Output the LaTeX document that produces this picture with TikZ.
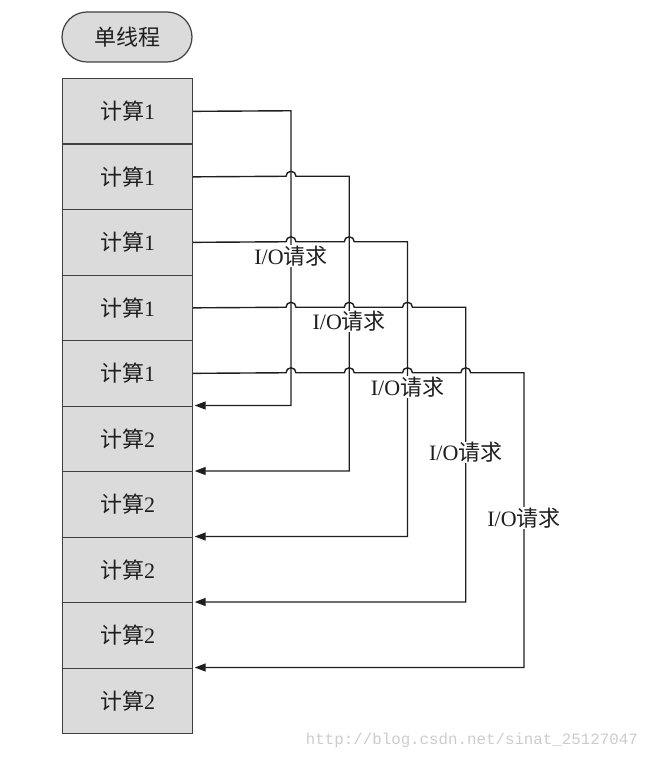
\documentclass[tikz,border=0pt]{standalone}
\usepackage{fontspec}
\setmainfont{Liberation Serif}
\newfontfamily\cjk{Noto Sans CJK SC}
\newfontfamily\wmfont{Liberation Mono}
\usetikzlibrary{arrows.meta,calc}
\definecolor{boxgray}{HTML}{DBDBDB}
\definecolor{ink}{HTML}{1E1E1E}
\begin{document}
\begin{tikzpicture}[x=1pt,y=1pt,
  box/.style={draw=black!75, line width=1.2pt, fill=boxgray, minimum width=130pt,
    minimum height=65.5pt, inner sep=0pt, anchor=north west, text=ink,
    font=\fontsize{22}{26}\selectfont},
  pill/.style={draw=black!75, line width=1.2pt, fill=boxgray, minimum width=130pt,
    minimum height=50pt, rounded corners=25pt, inner sep=0pt, text=ink,
    font=\fontsize{22}{26}\selectfont},
  conn/.style={draw=ink, line width=1.4pt, -{Triangle[length=11pt,width=8pt]}},
  iolabel/.style={fill=white, inner sep=0.5pt, text=ink, font=\fontsize{22}{26}\selectfont},
  wm/.style={text=black!20, font=\wmfont\fontsize{15.8}{18}\selectfont, anchor=east, inner sep=0pt}
]
\useasboundingbox (0,0) rectangle (650,-759);

\node[pill] (title) at (127,-37) {{\cjk 单线程}};

\node[box] (c1) at (62,-78) {{\cjk 计算}1};
\node[box] (c2) at (62,-143.5) {{\cjk 计算}1};
\node[box] (c3) at (62,-209) {{\cjk 计算}1};
\node[box] (c4) at (62,-274.5) {{\cjk 计算}1};
\node[box] (c5) at (62,-340) {{\cjk 计算}1};
\node[box] (c6) at (62,-405.5) {{\cjk 计算}2};
\node[box] (c7) at (62,-471) {{\cjk 计算}2};
\node[box] (c8) at (62,-536.5) {{\cjk 计算}2};
\node[box] (c9) at (62,-602) {{\cjk 计算}2};
\node[box] (c10) at (62,-667.5) {{\cjk 计算}2};

\draw[conn] (c1.east) -- (291,-110.75) -- (291,-405.5) -- ($(c6.north east)+(1.5,0)$);

\draw[conn] (c2.east) -- (286,-176.25) arc[start angle=180,end angle=0,radius=5pt]
  -- (349.25,-176.25) -- (349.25,-471) -- ($(c7.north east)+(1.5,0)$);

\draw[conn] (c3.east) -- (286,-241.75) arc[start angle=180,end angle=0,radius=5pt]
  -- (344.25,-241.75) arc[start angle=180,end angle=0,radius=5pt]
  -- (407.5,-241.75) -- (407.5,-536.5) -- ($(c8.north east)+(1.5,0)$);

\draw[conn] (c4.east) -- (286,-307.25) arc[start angle=180,end angle=0,radius=5pt]
  -- (344.25,-307.25) arc[start angle=180,end angle=0,radius=5pt]
  -- (402.5,-307.25) arc[start angle=180,end angle=0,radius=5pt]
  -- (465.75,-307.25) -- (465.75,-602) -- ($(c9.north east)+(1.5,0)$);

\draw[conn] (c5.east) -- (286,-372.75) arc[start angle=180,end angle=0,radius=5pt]
  -- (344.25,-372.75) arc[start angle=180,end angle=0,radius=5pt]
  -- (402.5,-372.75) arc[start angle=180,end angle=0,radius=5pt]
  -- (460.75,-372.75) arc[start angle=180,end angle=0,radius=5pt]
  -- (524,-372.75) -- (524,-667.5) -- ($(c10.north east)+(1.5,0)$);

\node[iolabel] (l1) at (291,-256) {I/O{\cjk 请求}};
\node[iolabel] (l2) at (349.25,-321.5) {I/O{\cjk 请求}};
\node[iolabel] (l3) at (407.5,-387) {I/O{\cjk 请求}};
\node[iolabel] (l4) at (465.75,-452.5) {I/O{\cjk 请求}};
\node[iolabel] (l5) at (524,-518) {I/O{\cjk 请求}};

\node[wm] (wm) at (638,-740) {http://blog.csdn.net/sinat\_25127047};
\end{tikzpicture}
\end{document}
